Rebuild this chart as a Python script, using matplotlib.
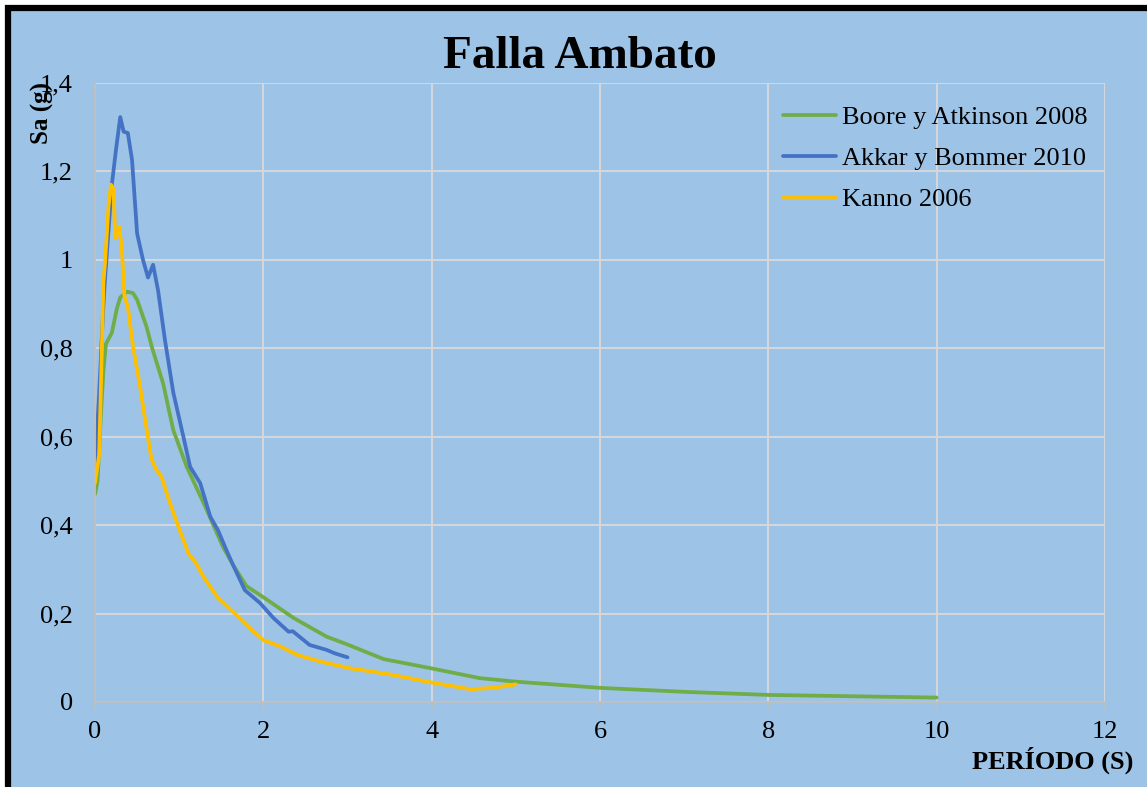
import matplotlib
matplotlib.use("Agg")
import matplotlib.pyplot as plt
from matplotlib.patches import Rectangle

# ---- data ----
ba_x = [0, 0.03, 0.07, 0.1, 0.13, 0.2, 0.26, 0.3, 0.38, 0.45, 0.5, 0.61, 0.68, 0.81, 0.93,
        1.09, 1.31, 1.52, 1.64, 1.8, 2.0, 2.36, 2.75, 3.0, 3.43, 4.0, 4.57, 5.0, 6.0, 7.0,
        8.0, 9.0, 10.0]
ba_y = [0.47, 0.5, 0.65, 0.75, 0.81, 0.835, 0.89, 0.915, 0.928, 0.925, 0.91, 0.85, 0.80,
        0.72, 0.615, 0.532, 0.442, 0.351, 0.31, 0.262, 0.237, 0.19, 0.148, 0.13, 0.097,
        0.076, 0.054, 0.046, 0.032, 0.023, 0.016, 0.013, 0.01]

ab_x = [0, 0.05, 0.1, 0.12, 0.2, 0.25, 0.3, 0.34, 0.39, 0.44, 0.5, 0.57, 0.63, 0.69, 0.75,
        0.83, 0.93, 1.05, 1.13, 1.25, 1.37, 1.46, 1.56, 1.64, 1.78, 1.96, 2.12, 2.3, 2.35,
        2.55, 2.75, 2.85, 3.0]
ab_y = [0.53, 0.7, 0.9, 0.96, 1.17, 1.25, 1.323, 1.29, 1.287, 1.226, 1.06, 1.0, 0.96, 0.989,
        0.93, 0.82, 0.70, 0.60, 0.532, 0.495, 0.419, 0.389, 0.344, 0.31, 0.253, 0.224, 0.19,
        0.159, 0.16, 0.129, 0.118, 0.11, 0.101]

k_x = [0, 0.05, 0.07, 0.1, 0.12, 0.16, 0.19, 0.22, 0.24, 0.27, 0.29, 0.32, 0.35, 0.39, 0.42,
       0.455, 0.53, 0.59, 0.67, 0.73, 0.79, 0.89, 0.99, 1.11, 1.19, 1.29, 1.45, 1.64, 1.84,
       2.0, 2.21, 2.41, 2.69, 3.04, 3.49, 4.0, 4.46, 4.74, 5.0]
k_y = [0.495, 0.56, 0.71, 0.95, 0.996, 1.12, 1.17, 1.16, 1.05, 1.06, 1.075, 1.02, 0.917,
       0.894, 0.85, 0.80, 0.72, 0.645, 0.55, 0.525, 0.51, 0.45, 0.397, 0.336, 0.317, 0.283,
       0.238, 0.204, 0.167, 0.14, 0.125, 0.106, 0.091, 0.076, 0.063, 0.044, 0.029, 0.032, 0.04]

series_names = ["Boore y Atkinson 2008", "Akkar y Bommer 2010", "Kanno 2006"]
x_ticks = [0, 2, 4, 6, 8, 10, 12]
y_ticks = [0, 0.2, 0.4, 0.6, 0.8, 1.0, 1.2, 1.4]
y_tick_labels = ["0", "0,2", "0,4", "0,6", "0,8", "1", "1,2", "1,4"]

BG = "#9DC3E6"
GRID = "#D9D9D9"
serif = ["Liberation Serif", "DejaVu Serif"]
plt.rcParams['font.family'] = serif

W, H = 1147, 787
fig = plt.figure(figsize=(W / 100, H / 100), dpi=100, facecolor="white")

# background panel with black frame
fig.patches.append(Rectangle((8 / W, -0.05), 1.1, 1 - 8 / H + 0.05, transform=fig.transFigure,
                             facecolor=BG, edgecolor="black", linewidth=4.5, zorder=-10))

ax = fig.add_axes([95 / W, 1 - 702 / H, (1105 - 95) / W, (702 - 83) / H])
ax.set_facecolor("none")
ax.set_zorder(5)

ax.plot(ba_x, ba_y, color="#70AD47", lw=2.7, label=series_names[0], solid_capstyle="round",
        solid_joinstyle="round")
ax.plot(ab_x, ab_y, color="#4472C4", lw=2.7, label=series_names[1], solid_capstyle="round",
        solid_joinstyle="round")
ax.plot(k_x, k_y, color="#FFC000", lw=2.7, label=series_names[2], solid_capstyle="round",
        solid_joinstyle="round")

ax.set_xlim(0, 12)
ax.set_ylim(0, 1.4)
ax.set_xticks(x_ticks)
ax.set_yticks(y_ticks)
ax.set_yticklabels(y_tick_labels)
ax.grid(True, color=GRID, lw=1.3)
ax.set_axisbelow(True)
for s in ["top", "right"]:
    ax.spines[s].set_visible(False)
for s in ["left", "bottom"]:
    ax.spines[s].set_color("#BFBFBF")
    ax.spines[s].set_linewidth(1.3)
ax.tick_params(axis="x", direction="out", length=5, color="#BFBFBF", width=1.3,
               labelsize=19, pad=9)
ax.tick_params(axis="y", length=0, labelsize=19, pad=16)

fig.text(580 / W, 1 - 57 / H, "Falla Ambato", ha="center", va="center",
         fontsize=34, fontweight="bold", zorder=10)
fig.text(42 / W, 1 - 113 / H, "Sa (g)", ha="center", va="center", rotation=90,
         fontsize=18, fontweight="bold", zorder=10)
fig.text(1133 / W, 1 - 760 / H, "PERÍODO (S)", ha="right", va="center",
         fontsize=19, fontweight="bold", zorder=10)

leg = ax.legend(loc="upper left", bbox_to_anchor=(783 / W, 1 - 106 / H),
                bbox_transform=fig.transFigure, frameon=False, fontsize=19,
                handlelength=2.0, handletextpad=0.25, labelspacing=0.66, borderpad=0,
                borderaxespad=0)

fig.savefig("out.png", dpi=100, facecolor="white")
